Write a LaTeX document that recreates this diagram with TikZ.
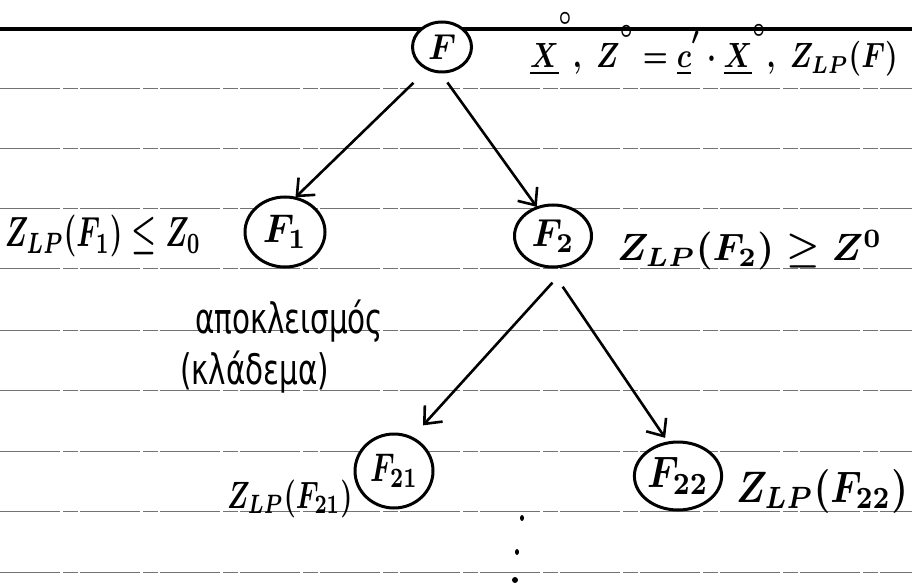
\documentclass[tikz,border=0pt]{standalone}
\usepackage{graphicx}
\usepackage{fontspec}
\newfontfamily\greekfont{DejaVu Sans}
\usetikzlibrary{shapes.geometric,arrows.meta}
\newcommand{\hup}[1]{\raisebox{#1}{$\scriptstyle\circ$}}
\newcommand{\bm}[3]{\scalebox{#1}[#2]{\boldmath$#3$}}
\begin{document}
\begin{tikzpicture}[x=1pt,y=-1pt,
  ruled/.style={black!55, line width=0.9pt, dash pattern=on 60pt off 3pt on 15pt off 2pt},
  circ/.style={ellipse, draw, fill=white, line width=3pt, inner sep=0pt, outer sep=0pt},
  arr/.style={line width=2.6pt, -{Straight Barb[length=14pt,width=24pt,line width=2.6pt]}},
  lbl/.style={inner sep=0pt, outer sep=0pt, anchor=base west}
]
\fill[white] (0,0) rectangle (912,585);
\useasboundingbox (0,0) rectangle (912,585);
\foreach \yy in {88,148,208,268,330,390,451,511,572} \draw[ruled] (0,\yy) -- (912,\yy);
\draw[line width=3.5pt] (0,29) -- (912,29);

% nodes
\node[circ, minimum width=59pt, minimum height=50pt] (F) at (442,47) {\bm{3.3}{3.6}{F}};
\node[circ, minimum width=80pt, minimum height=70pt] (F1) at (285,232) {\bm{3.7}{4}{F_1}};
\node[circ, minimum width=77pt, minimum height=62pt] (F2) at (553,236) {\bm{3.6}{3.9}{F_2}};
\node[circ, minimum width=78pt, minimum height=74pt] (F21) at (394,471) {\bm{2.9}{4}{F_{21}}};
\node[circ, minimum width=86pt, minimum height=68pt] (F22) at (678,476) {\bm{3.75}{4.4}{F_{22}}};

% connectors
\draw[arr, shorten <=20pt, shorten >=1pt] (F.237) -- (F1.74);
\draw[arr, shorten <=13pt, shorten >=1pt] (F.265) -- (F2.119);
\draw[arr, shorten <=25pt, shorten >=17pt] (F2.300) -- (F21.62);
\draw[arr, shorten <=24pt, shorten >=6pt] (F2.263) -- (F22.106);

% labels
\node[lbl] (t0) at (530,68) {\bm{2.8}{3.5}{\underline{X}^{\hup{8pt}},\;Z^{\hup{5pt}}=\underline{c}^{\raisebox{3pt}{$\scriptstyle\prime$}}\cdot\underline{X}^{\hup{4.5pt}},\;Z_{LP}(F)}};
\node[lbl] (t1) at (5,247) {\bm{2.8}{4.2}{Z_{LP}(F_1)\leq Z_0}};
\node[lbl] (t2) at (617,261) {\bm{3.75}{3.8}{Z_{LP}(F_2)\geq Z^0}};
\node[lbl] (t3) at (227,508) {\bm{2.7}{3.8}{Z_{LP}(F_{21})}};
\node[lbl] (t4) at (736,502) {\bm{3.7}{4.4}{Z_{LP}(F_{22})}};
\node[lbl] (g1) at (195,333) {\greekfont\fontsize{42}{46}\selectfont\scalebox{0.7}[1]{αποκλεισμός}};
\node[lbl] (g2) at (180,384) {\greekfont\fontsize{42}{46}\selectfont\scalebox{0.7}[1]{(κλάδεμα)}};

% vertical dots
\fill (522,518) ellipse (2pt and 3pt);
\fill (517,552) ellipse (2pt and 3pt);
\fill (515,580) ellipse (3pt and 3pt);
\end{tikzpicture}
\end{document}
